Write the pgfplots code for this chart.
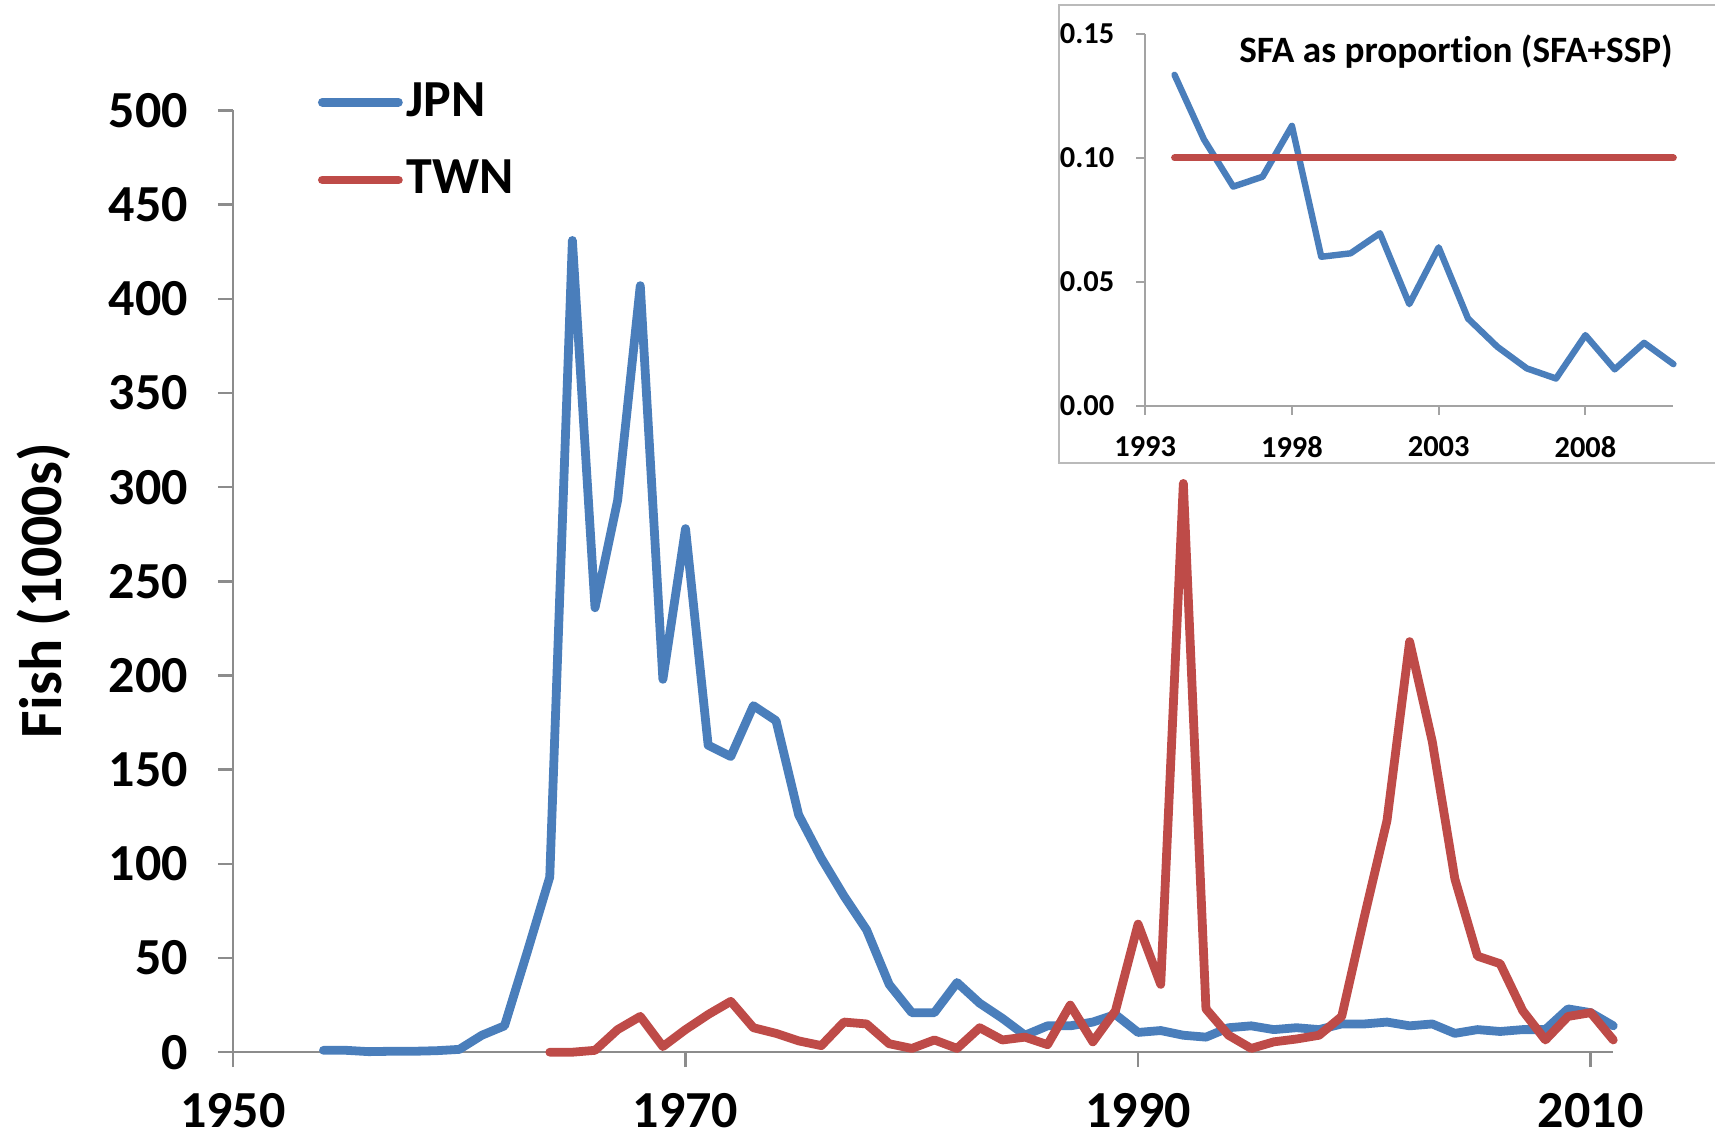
\documentclass[border=0pt]{standalone}
\usepackage{fontspec}
\setmainfont{Carlito}[Ligatures=NoCommon]
\usepackage{pgfplots}
\usepackage{pgfplotstable}
\pgfplotsset{compat=1.18}

\definecolor{jpn}{HTML}{4A7EBB}
\definecolor{twn}{HTML}{BE4B48}
\definecolor{axgray}{HTML}{8C8C8C}
\newcommand{\pu}{0.2734pt}

% catch in thousands of fish
\pgfplotstableread{
year val
1954 1
1955 1
1956 0.3
1957 0.5
1958 0.5
1959 0.8
1960 1.5
1961 9
1962 14
1963 53
1964 93
1965 431
1966 236
1967 293
1968 407
1969 198
1970 278
1971 163
1972 157
1973 184
1974 176
1975 126
1976 103
1977 83
1978 65
1979 36
1980 21
1981 21
1982 37
1983 26
1984 18
1985 9
1986 14
1987 14
1988 16
1989 20
1990 10.5
1991 11.5
1992 9
1993 8
1994 13
1995 14
1996 12
1997 13
1998 12
1999 15
2000 15
2001 16
2002 14
2003 15
2004 10
2005 12
2006 11
2007 12
2008 12
2009 23
2010 21
2011 14
}\jpndata

\pgfplotstableread{
year val
1964 0
1965 0
1966 1
1967 12
1968 19
1969 3
1970 12
1971 20
1972 27
1973 13
1974 10
1975 6
1976 3.5
1977 16
1978 15
1979 4.5
1980 2
1981 6.5
1982 2
1983 13
1984 6.5
1985 8
1986 4
1987 25
1988 5.5
1989 22
1990 68
1991 36
1992 302
1993 23
1994 9
1995 2
1996 5.5
1997 7
1998 9
1999 19
2000 72
2001 123
2002 218
2003 165
2004 92
2005 51
2006 47
2007 22
2008 6.5
2009 19
2010 21
2011 6.5
}\twndata

% SFA / (SFA+SSP)
\pgfplotstableread{
year prop
1994 0.1335
1995 0.1075
1996 0.0884
1997 0.0924
1998 0.1129
1999 0.0601
2000 0.0615
2001 0.0696
2002 0.0410
2003 0.0639
2004 0.0352
2005 0.0238
2006 0.0151
2007 0.0110
2008 0.0285
2009 0.0147
2010 0.0254
2011 0.0168
}\propdata

\begin{document}
\begin{tikzpicture}
\path[use as bounding box] (0,0) rectangle (1568*\pu,1038*\pu);

\begin{axis}[
  at={(213*\pu,76*\pu)}, anchor=south west,
  scale only axis, width=1262*\pu, height=861*\pu,
  xmin=1950, xmax=2011, ymin=0, ymax=500,
  axis x line=bottom, axis y line=left,
  axis line style={axgray, line width=0.6pt, -},
  xtick={1950,1970,1990,2010}, ytick={0,50,...,500},
  tick align=outside, major tick length=3.75pt,
  tick style={axgray, line width=0.6pt},
  ticklabel style={font=\bfseries\fontsize{13}{13}\selectfont},
  /pgf/number format/assume math mode=true,
  /pgf/number format/1000 sep={},
  yticklabel style={xshift=-4pt},
  xticklabel style={yshift=-3pt},
  ylabel={Fish (1000s)},
  ylabel style={at={(rel axis cs:-0.137,0.49)}, anchor=center,
    font=\bfseries\fontsize{15}{15}\selectfont},
  clip=false,
  legend style={at={(rel axis cs:0.061,1.035)}, anchor=north west,
    draw=none, fill=none, inner sep=0pt, row sep=7.5pt,
    nodes={inner sep=1pt},
    font=\bfseries\fontsize{13}{13}\selectfont},
  legend cell align=left,
  legend image code/.code={\draw[#1] (0pt,0pt) -- (19pt,0pt);},
  every axis plot/.append style={line width=2.2pt, line join=round, line cap=round},
]
\addplot[jpn] table[x=year, y=val] {\jpndata};
\addlegendentry{JPN}
\addplot[twn] table[x=year, y=val] {\twndata};
\addlegendentry{TWN}
\end{axis}

\draw[axgray!60, fill=white, line width=0.5pt] (968*\pu,615*\pu) rectangle (1600*\pu,1033*\pu);

\begin{axis}[
  at={(1047*\pu,667*\pu)}, anchor=south west,
  scale only axis, width=483*\pu, height=340*\pu,
  xmin=1993, xmax=2011, ymin=0, ymax=0.15,
  axis x line=bottom, axis y line=left,
  axis line style={axgray!80, line width=0.5pt, -},
  xtick={1993,1998,2003,2008}, ytick={0,0.05,0.1,0.15},
  tick align=outside, major tick length=2.2pt,
  tick style={axgray!80, line width=0.5pt},
  ticklabel style={font=\bfseries\fontsize{7.6}{7.6}\selectfont},
  /pgf/number format/assume math mode=true,
  /pgf/number format/1000 sep={},
  yticklabel style={/pgf/number format/fixed, /pgf/number format/fixed zerofill,
    /pgf/number format/precision=2, xshift=-2pt},
  xticklabel style={yshift=-2pt},
  clip=false,
  every axis plot/.append style={line width=1.6pt, line join=round, line cap=round},
]
\addplot[jpn] table[x=year, y=prop] {\propdata};
\addplot[twn, line width=1.7pt] coordinates {(1994,0.1) (2011,0.1)};
\node[anchor=east, inner sep=0pt, font=\bfseries\fontsize{9.3}{9.3}\selectfont] at (rel axis cs:1,0.953) {SFA as proportion (SFA+SSP)};
\end{axis}
\end{tikzpicture}
\end{document}
